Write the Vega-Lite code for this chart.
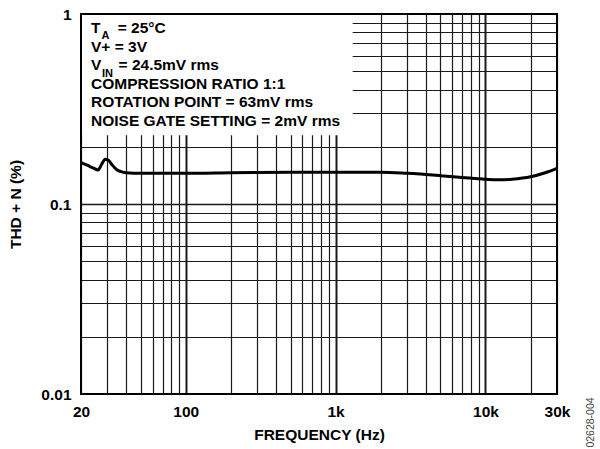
{
  "$schema": "https://vega.github.io/schema/vega-lite/v6.json",
  "autosize": "none",
  "width": 476,
  "height": 380,
  "padding": {"left": 81, "top": 14, "right": 43, "bottom": 55},
  "background": "white",
  "config": {
    "view": {"stroke": null},
    "font": "Liberation Sans"
  },
  "datasets": {
    "curve": [
      {"freq": 20, "thd": 0.165},
      {"freq": 22, "thd": 0.16},
      {"freq": 24, "thd": 0.155},
      {"freq": 26, "thd": 0.151},
      {"freq": 27.5, "thd": 0.162},
      {"freq": 29, "thd": 0.172},
      {"freq": 30.5, "thd": 0.17},
      {"freq": 32, "thd": 0.162},
      {"freq": 34.5, "thd": 0.152},
      {"freq": 37, "thd": 0.148},
      {"freq": 40, "thd": 0.146},
      {"freq": 50, "thd": 0.145},
      {"freq": 70, "thd": 0.145},
      {"freq": 100, "thd": 0.145},
      {"freq": 200, "thd": 0.146},
      {"freq": 500, "thd": 0.147},
      {"freq": 1000, "thd": 0.147},
      {"freq": 2000, "thd": 0.147},
      {"freq": 3000, "thd": 0.145},
      {"freq": 5000, "thd": 0.141},
      {"freq": 7000, "thd": 0.138},
      {"freq": 10000, "thd": 0.135},
      {"freq": 12000, "thd": 0.134},
      {"freq": 15000, "thd": 0.135},
      {"freq": 20000, "thd": 0.139},
      {"freq": 25000, "thd": 0.146},
      {"freq": 30000, "thd": 0.154}
    ],
    "one": [{"id": 1}]
  },
  "layer": [
    {
      "data": {"name": "curve"},
      "mark": {"type": "line", "strokeWidth": 3, "color": "black", "interpolate": "monotone", "opacity": 0},
      "encoding": {
        "x": {
          "field": "freq", "type": "quantitative",
          "scale": {"type": "log", "domain": [20, 30000], "nice": false},
          "axis": {
            "values": [20,30,40,50,60,70,80,90,100,200,300,400,500,600,700,800,900,1000,2000,3000,4000,5000,6000,7000,8000,9000,10000,20000,30000],
            "labelExpr": "datum.value == 20 ? '20' : datum.value == 100 ? '100' : datum.value == 1000 ? '1k' : datum.value == 10000 ? '10k' : datum.value == 30000 ? '30k' : ''",
            "title": "FREQUENCY (Hz)",
            "titleFontSize": 15.5, "titleFontWeight": "bold", "titleColor": "black", "titlePadding": 8,
            "labelFontSize": 15.5, "labelFontWeight": "bold", "labelColor": "black", "labelPadding": 10,
            "labelOverlap": false, "labelFlush": false, "labelBound": false,
            "ticks": false, "tickSize": 0, "domain": false,
            "grid": true, "gridColor": "#1a1a1a", "gridOpacity": 1,
            "gridWidth": {"condition": {"test": "datum.value == 100 || datum.value == 1000 || datum.value == 10000", "value": 2}, "value": 1.2}
          }
        },
        "y": {
          "field": "thd", "type": "quantitative",
          "scale": {"type": "log", "domain": [0.01, 1], "nice": false},
          "axis": {
            "values": [0.01,0.02,0.03,0.04,0.05,0.06,0.07,0.08,0.09,0.1,0.2,0.3,0.4,0.5,0.6,0.7,0.8,0.9,1],
            "labelExpr": "datum.value == 1 ? '1' : datum.value == 0.1 ? '0.1' : datum.value == 0.01 ? '0.01' : ''",
            "title": "THD + N (%)",
            "titleFontSize": 15.5, "titleFontWeight": "bold", "titleColor": "black", "titlePadding": 17,
            "labelFontSize": 15.5, "labelFontWeight": "bold", "labelColor": "black", "labelPadding": 10,
            "labelOverlap": false, "labelFlush": false, "labelBound": false,
            "ticks": false, "tickSize": 0, "domain": false,
            "grid": true, "gridColor": "#1a1a1a", "gridOpacity": 1,
            "gridWidth": {"condition": {"test": "datum.value == 0.1", "value": 1.6}, "value": 1.2}
          }
        }
      }
    },
    {
      "data": {"name": "one"},
      "mark": {"type": "rect", "fill": "white", "strokeWidth": 0},
      "encoding": {
        "x": {"datum": 20, "type": "quantitative"},
        "x2": {"datum": 1300},
        "y": {"datum": 0.23, "type": "quantitative"},
        "y2": {"datum": 1}
      }
    },
    {
      "data": {"name": "curve"},
      "mark": {"type": "line", "strokeWidth": 3, "color": "black", "interpolate": "monotone"},
      "encoding": {
        "x": {"field": "freq", "type": "quantitative"},
        "y": {"field": "thd", "type": "quantitative"}
      }
    },
    {
      "data": {"name": "one"},
      "mark": {"type": "rect", "fill": null, "fillOpacity": 0, "stroke": "black", "strokeWidth": 2},
      "encoding": {
        "x": {"datum": 20, "type": "quantitative"},
        "x2": {"datum": 30000},
        "y": {"datum": 0.01, "type": "quantitative"},
        "y2": {"datum": 1}
      }
    },
    {
      "data": {"name": "one"},
      "mark": {
        "type": "text", "align": "left", "baseline": "alphabetic",
        "font": "Liberation Sans", "fontSize": 15.5, "fontWeight": "bold", "color": "black",
        "lineHeight": 18.5, "dx": 10, "dy": 19.3,
        "text": ["T\u00a0\u00a0\u00a0\u00a0= 25°C", "V+ = 3V", "V\u00a0\u00a0\u00a0\u00a0= 24.5mV rms", "COMPRESSION RATIO 1:1", "ROTATION POINT = 63mV rms", "NOISE GATE SETTING = 2mV rms"]
      },
      "encoding": {
        "x": {"datum": 20, "type": "quantitative"},
        "y": {"datum": 1, "type": "quantitative"}
      }
    },
    {
      "data": {"name": "one"},
      "mark": {
        "type": "text", "align": "left", "baseline": "alphabetic",
        "font": "Liberation Sans", "fontSize": 11, "fontWeight": "bold", "color": "black",
        "dx": 20.5, "dy": 25, "text": "A"
      },
      "encoding": {
        "x": {"datum": 20, "type": "quantitative"},
        "y": {"datum": 1, "type": "quantitative"}
      }
    },
    {
      "data": {"name": "one"},
      "mark": {
        "type": "text", "align": "left", "baseline": "alphabetic",
        "font": "Liberation Sans", "fontSize": 11, "fontWeight": "bold", "color": "black",
        "dx": 21, "dy": 62.5, "text": "IN"
      },
      "encoding": {
        "x": {"datum": 20, "type": "quantitative"},
        "y": {"datum": 1, "type": "quantitative"}
      }
    },
    {
      "data": {"name": "one"},
      "mark": {
        "type": "text", "align": "center", "baseline": "middle", "angle": 270,
        "font": "Liberation Sans", "fontSize": 10.5, "color": "#444",
        "dx": -28.5, "dy": 34, "text": "02628-004"
      },
      "encoding": {
        "x": {"datum": 30000, "type": "quantitative"},
        "y": {"datum": 0.01, "type": "quantitative"}
      }
    }
  ]
}
